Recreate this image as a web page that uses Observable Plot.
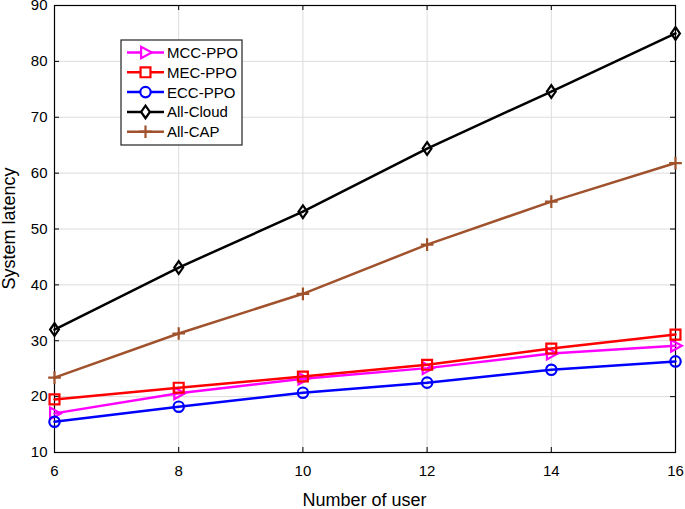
<!DOCTYPE html>
<html>
<head>
<meta charset="utf-8">
<script src="https://cdn.jsdelivr.net/npm/d3@7"></script>
<script src="https://cdn.jsdelivr.net/npm/@observablehq/plot@0.6"></script>
<style>
  html, body { margin: 0; padding: 0; background: #fff; }
  #chart { position: relative; width: 685px; height: 509px; }
  svg { font-family: "Liberation Sans", Arial, sans-serif; }
</style>
</head>
<body>
<div id="chart"></div>
<script>
const users = [6, 8, 10, 12, 14, 16];
const mccPPO   = [17.0, 20.6, 23.2, 25.1, 27.7, 29.1];
const mecPPO   = [19.5, 21.6, 23.6, 25.7, 28.6, 31.1];
const eccPPO   = [15.5, 18.2, 20.7, 22.5, 24.8, 26.3];
const allCloud = [32.0, 43.1, 53.1, 64.4, 74.6, 85.0];
const allCAP   = [23.4, 31.3, 38.4, 47.2, 54.9, 61.8];
const seriesNames = ["MCC-PPO", "MEC-PPO", "ECC-PPO", "All-Cloud", "All-CAP"];
const xTicks = [6, 8, 10, 12, 14, 16];
const yTicks = [10, 20, 30, 40, 50, 60, 70, 80, 90];

// custom marker shapes (size = PI * r^2)
const rad = size => Math.sqrt(size / Math.PI);
const triRight = {draw(c, size) { const r = rad(size);
  c.moveTo(r * 1.15, 0); c.lineTo(-r * 0.8, -r * 1.05); c.lineTo(-r * 0.8, r * 1.05); c.closePath(); }};
const square = {draw(c, size) { const r = rad(size) * 0.9; c.rect(-r, -r, 2 * r, 2 * r); }};
const circle = {draw(c, size) { const r = rad(size); c.moveTo(r, 0); c.arc(0, 0, r, 0, 2 * Math.PI); }};
const diamond = {draw(c, size) { const r = rad(size);
  c.moveTo(0, -r * 1.15); c.lineTo(r * 0.8, 0); c.lineTo(0, r * 1.15); c.lineTo(-r * 0.8, 0); c.closePath(); }};
const plus = {draw(c, size) { const r = rad(size) * 1.15;
  c.moveTo(-r, 0); c.lineTo(r, 0); c.moveTo(0, -r); c.lineTo(0, r); }};

const series = [
  {name: seriesNames[0], values: mccPPO, color: "#ff00ff", symbol: triRight, r: 5.5},
  {name: seriesNames[1], values: mecPPO, color: "#ff0000", symbol: square, r: 5.5},
  {name: seriesNames[2], values: eccPPO, color: "#0000ff", symbol: circle, r: 5.2},
  {name: seriesNames[3], values: allCloud, color: "#000000", symbol: diamond, r: 5.5},
  {name: seriesNames[4], values: allCAP, color: "#a0522d", symbol: plus, r: 5.5}
];

const W = 685, H = 509;
const mL = 54, mR = 10, mT = 5, mB = 57;
const innerW = W - mL - mR, innerH = H - mT - mB;

const marks = [
  Plot.gridX(xTicks, {stroke: "#dcdcdc", strokeOpacity: 1, strokeWidth: 1}),
  Plot.gridY(yTicks, {stroke: "#dcdcdc", strokeOpacity: 1, strokeWidth: 1}),
  Plot.frame({stroke: "#000", strokeWidth: 1.2}),
  Plot.tickY(yTicks, {y: d => d, stroke: "#000", insetRight: innerW - 5}),
  Plot.tickY(yTicks, {y: d => d, stroke: "#000", insetLeft: innerW - 5}),
  Plot.tickX(xTicks, {x: d => d, stroke: "#000", insetTop: innerH - 5}),
  Plot.tickX(xTicks, {x: d => d, stroke: "#000", insetBottom: innerH - 5}),
  Plot.axisX(xTicks, {tickSize: 0, tickPadding: 13, fontSize: 15, color: "#000", label: null}),
  Plot.axisY(yTicks, {tickSize: 0, tickPadding: 7, fontSize: 15, color: "#000", label: null})
];

for (const s of series) {
  const data = users.map((u, i) => ({u, v: s.values[i]}));
  marks.push(Plot.line(data, {x: "u", y: "v", stroke: s.color, strokeWidth: 2.5}));
  marks.push(Plot.dot(data, {x: "u", y: "v", stroke: s.color, fill: "none", strokeWidth: 2.2, symbol: s.symbol, r: s.r}));
}

const plot = Plot.plot({
  width: W, height: H,
  marginLeft: mL, marginRight: mR, marginTop: mT, marginBottom: mB,
  x: {domain: [6, 16], label: null},
  y: {domain: [10, 90], label: null},
  style: {fontFamily: "Liberation Sans, Arial, sans-serif", background: "#fff", overflow: "visible"},
  marks
});

const svg = d3.select(plot);
// Axis titles
svg.append("text")
  .attr("x", mL + innerW / 2).attr("y", 506)
  .attr("text-anchor", "middle").attr("font-size", 18).attr("fill", "#000")
  .text("Number of user");
svg.append("text")
  .attr("transform", `translate(15,${mT + innerH / 2}) rotate(-90)`)
  .attr("text-anchor", "middle").attr("font-size", 18).attr("fill", "#000")
  .text("System latency");

// Legend
const lg = svg.append("g").attr("transform", "translate(121,40)");
lg.append("rect").attr("width", 121).attr("height", 105)
  .attr("fill", "#fff").attr("stroke", "#222").attr("stroke-width", 1.2);
series.forEach((s, i) => {
  const y = 12.5 + i * 19.8;
  const g = lg.append("g").attr("transform", `translate(0,${y})`);
  g.append("line").attr("x1", 6).attr("x2", 43).attr("y1", 0).attr("y2", 0)
    .attr("stroke", s.color).attr("stroke-width", 2.5);
  g.append("path")
    .attr("d", d3.symbol(s.symbol, Math.PI * s.r * s.r)())
    .attr("transform", `translate(24.5,0)`)
    .attr("fill", "#fff").attr("stroke", s.color).attr("stroke-width", 2.2);
  g.append("text").attr("x", 46).attr("y", 0).attr("dy", "0.36em")
    .attr("text-anchor", "start")
    .attr("font-size", 15).attr("fill", "#000").text(s.name);
});

document.getElementById("chart").appendChild(plot);
</script>
</body>
</html>
